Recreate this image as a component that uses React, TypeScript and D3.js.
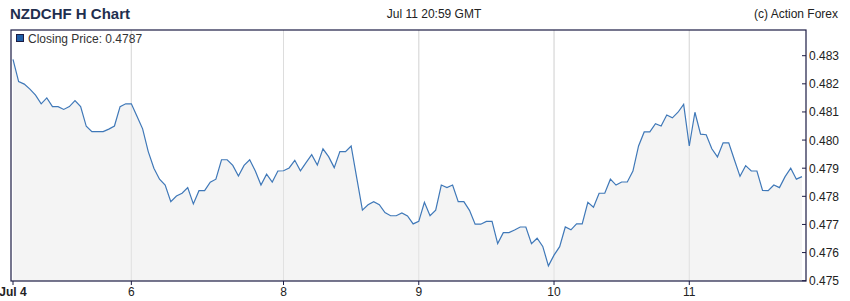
import React from "react";
import * as d3 from "d3";

const closes: number[] = [
  0.48287, 0.48208, 0.48199, 0.48181, 0.4816, 0.48129, 0.4815, 0.48119, 0.48119, 0.48109,
  0.48119, 0.4814, 0.48119, 0.48049, 0.4803, 0.4803, 0.4803, 0.48039, 0.4805, 0.48119,
  0.48129, 0.48129, 0.48085, 0.4804, 0.47959, 0.479, 0.47861, 0.4784, 0.47781, 0.47801,
  0.47811, 0.47831, 0.47773, 0.4782, 0.4782, 0.4785, 0.47861, 0.4793, 0.4793, 0.4791,
  0.47872, 0.4791, 0.4793, 0.4789, 0.4784, 0.47879, 0.47851, 0.4789, 0.47891, 0.47901,
  0.47928, 0.47891, 0.4792, 0.47948, 0.47911, 0.47969, 0.47941, 0.47902, 0.47959, 0.47959,
  0.47979, 0.47865, 0.47751, 0.4777, 0.47781, 0.4777, 0.47742, 0.47731, 0.47731, 0.47741,
  0.4773, 0.47702, 0.47711, 0.47779, 0.47731, 0.47751, 0.4784, 0.47831, 0.4784, 0.47781,
  0.47781, 0.4775, 0.47701, 0.47701, 0.47711, 0.47711, 0.47632, 0.47671, 0.47671, 0.4768,
  0.47691, 0.47691, 0.47632, 0.47651, 0.47622, 0.47553, 0.47591, 0.47621, 0.47691, 0.47681,
  0.47702, 0.47702, 0.47779, 0.47761, 0.47811, 0.47811, 0.47861, 0.4784, 0.47851, 0.47851,
  0.4789, 0.47979, 0.48029, 0.48029, 0.48058, 0.4805, 0.48089, 0.48079, 0.48099, 0.48127,
  0.47979, 0.48099, 0.48021, 0.48019, 0.47969, 0.4794, 0.4799, 0.4799, 0.4793, 0.47871,
  0.47909, 0.4789, 0.4789, 0.47821, 0.4782, 0.4784, 0.47831, 0.4787, 0.479, 0.47861,
  0.4787,
];

const xTickIdx: number[] = [0, 21, 48, 72, 96, 120];
const xTickLabels: string[] = ["Jul 4", "6", "8", "9", "10", "11"];
const yTicks: number[] = [0.475, 0.476, 0.477, 0.478, 0.479, 0.48, 0.481, 0.482, 0.483];

const title = "NZDCHF H Chart";
const dateLabel = "Jul 11 20:59 GMT";
const credit = "(c) Action Forex";
const legendLabel = "Closing Price: 0.4787";

export default function App() {
  const W = 850, H = 301;
  const left = 11, right = 806, top = 30, bottom = 281;
  const x = d3.scaleLinear().domain([0, closes.length - 1]).range([13, 802]);
  const y = d3.scaleLinear().domain([0.475, 0.483]).range([280.7, 55.7]);
  const line = d3.line<number>().x((_, i) => x(i)).y((d) => y(d));
  const area = d3.area<number>().x((_, i) => x(i)).y0(bottom).y1((d) => y(d));
  const font = "'Liberation Sans', Arial, sans-serif";
  const navy = "#1c1c44";
  return (
    <svg width={W} height={H} style={{ position: "absolute", left: 0, top: 0, background: "#fff" }} fontFamily={font}>
      <rect x={0} y={0} width={W} height={H} fill="#fff" />
      <text x={10} y={19} fontSize={15} fontWeight="bold" fill="#1f2f4f">{title}</text>
      <text x={434} y={18} fontSize={12} textAnchor="middle" fill="#222">{dateLabel}</text>
      <text x={838} y={18} fontSize={12} textAnchor="end" fill="#222">{credit}</text>
      {xTickIdx.slice(1).map((t, i) => (
        <line key={"g" + i} x1={x(t)} x2={x(t)} y1={top} y2={bottom} stroke="#dddddd" strokeWidth={1} />
      ))}
      <path d={area(closes) || ""} fill="#f4f4f4" />
      {xTickIdx.slice(1).map((t, i) => (
        <line key={"g2" + i} x1={x(t)} x2={x(t)} y1={top} y2={bottom} stroke="#dddddd" strokeWidth={1} opacity={0.8} />
      ))}
      <path d={line(closes) || ""} fill="none" stroke="#3f78b8" strokeWidth={1.2} />
      <rect x={left} y={top} width={right - left} height={bottom - top} fill="none" stroke={navy} strokeWidth={1.2} />
      {yTicks.map((t, i) => (
        <g key={"y" + i}>
          <line x1={right - 4} x2={right} y1={y(t)} y2={y(t)} stroke={navy} />
          <text x={809} y={y(t) + 4.5} fontSize={12} fill="#222">{t.toFixed(3)}</text>
        </g>
      ))}
      {xTickIdx.map((t, i) => (
        <g key={"x" + i}>
          <line x1={x(t)} x2={x(t)} y1={bottom} y2={bottom + 4} stroke={navy} />
          <text x={x(t)} y={296} fontSize={12} textAnchor="middle" fill="#222" fontWeight={i === 0 ? "bold" : "normal"}>{xTickLabels[i]}</text>
        </g>
      ))}
      <rect x={16.5} y={34.5} width={7} height={7} fill="#1f5fa8" stroke={navy} strokeWidth={1} />
      <text x={28} y={42.5} fontSize={12} fill="#333">{legendLabel}</text>
    </svg>
  );
}
